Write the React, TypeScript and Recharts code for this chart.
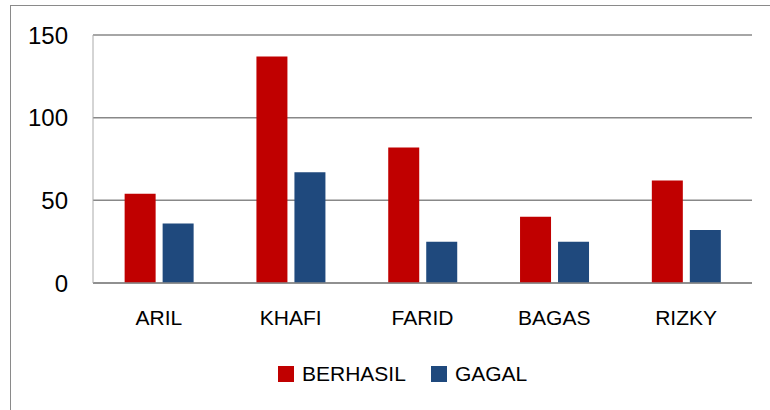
import { BarChart, Bar, XAxis, YAxis, CartesianGrid, Legend } from "recharts";

const names = ["ARIL", "KHAFI", "FARID", "BAGAS", "RIZKY"];
const berhasil = [54, 137, 82, 40, 62];
const gagal = [36, 67, 25, 25, 32];
const yTicks = [0, 50, 100, 150];

const RED = "#C00000";
const BLUE = "#1F497D";
const FONT = "'Liberation Sans', Arial, sans-serif";

const chartData = names.map((name, i) => ({
  name,
  BERHASIL: berhasil[i],
  GAGAL: gagal[i],
}));

function ChartLegend({ payload }: any) {
  return (
    <div style={{ height: 60, position: "relative" }}>
      <div
        style={{
          position: "absolute",
          left: 278,
          top: 16,
          display: "flex",
          alignItems: "center",
          fontFamily: FONT,
          fontSize: 21,
          lineHeight: "16px",
          color: "#000",
        }}
      >
        {(payload || []).map((p: any) => (
          <div key={p.value} style={{ display: "flex", alignItems: "center", marginRight: 25 }}>
            <span style={{ width: 16, height: 16, background: p.color, marginRight: 8 }} />
            <span>{p.value}</span>
          </div>
        ))}
      </div>
    </div>
  );
}

export default function App() {
  return (
    <div style={{ position: "absolute", left: 0, top: 0, width: 770, height: 410, overflow: "hidden", background: "#fff" }}>
      <div style={{ position: "absolute", left: 0, top: 0 }}>
        <BarChart
          width={770}
          height={410}
          data={chartData}
          margin={{ top: 35, right: 18, bottom: 0, left: 0 }}
          barCategoryGap="24%"
          barGap={7}
        >
          <CartesianGrid vertical={false} stroke="#888" strokeWidth={1.5} />
          <XAxis
            dataKey="name"
            height={67}
            tickSize={0}
            tickMargin={27}
            stroke="#888"
            strokeWidth={1.5}
            tick={{ fontSize: 21, fill: "#000", fontFamily: FONT }}
          />
          <YAxis
            width={93}
            domain={[0, 150]}
            ticks={yTicks}
            tickSize={0}
            tickMargin={25}
            stroke="#aaa"
            tick={{ fontSize: 24, fill: "#000", fontFamily: FONT }}
          />
          <Legend verticalAlign="bottom" content={<ChartLegend />} />
          <Bar dataKey="BERHASIL" fill={RED} isAnimationActive={false} />
          <Bar dataKey="GAGAL" fill={BLUE} isAnimationActive={false} />
        </BarChart>
      </div>
      <div
        style={{
          position: "absolute",
          left: 10,
          top: 5,
          width: 800,
          height: 450,
          borderLeft: "1.5px solid #8a8a8a",
          borderTop: "1.5px solid #8a8a8a",
          pointerEvents: "none",
        }}
      />
    </div>
  );
}
